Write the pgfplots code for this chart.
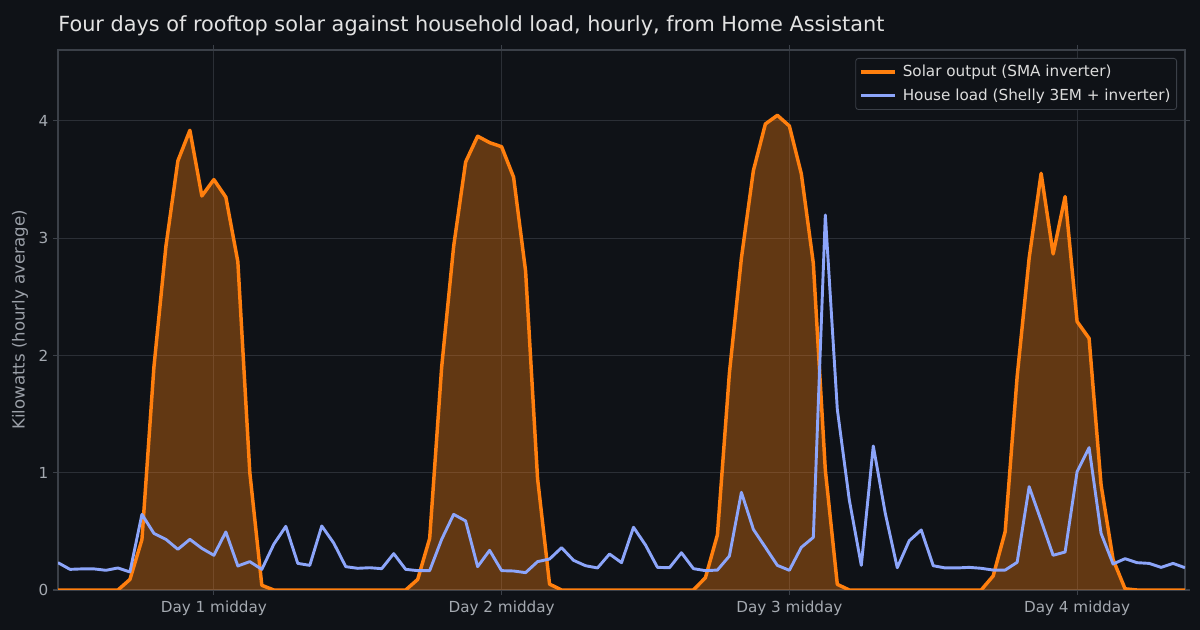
\documentclass[border=0pt]{standalone}
\usepackage{pgfplots}
\pgfplotsset{compat=1.18}
\usepackage{fontspec}
\setmainfont{DejaVu Sans}
\definecolor{bgc}{HTML}{0F1217}
\definecolor{gridc}{HTML}{2B2F36}
\definecolor{spinec}{HTML}{3B4048}
\definecolor{titlec}{HTML}{E2E2E2}
\definecolor{tickc}{HTML}{A4A9B0}
\definecolor{labc}{HTML}{9BA0A8}
\definecolor{solarc}{HTML}{FF7F0E}
\definecolor{loadc}{HTML}{8CA5FA}
\definecolor{legc}{HTML}{DCDCDC}
\pgfplotstableread{
x solar load
0 0 0.233
1 0 0.176
2 0 0.180
3 0 0.180
4 0 0.168
5 0 0.188
6 0.09 0.154
7 0.43 0.645
8 1.90 0.483
9 2.93 0.432
10 3.66 0.347
11 3.92 0.432
12 3.36 0.355
13 3.50 0.296
14 3.35 0.495
15 2.80 0.205
16 1.00 0.242
17 0.04 0.176
18 0 0.390
19 0 0.543
20 0 0.227
21 0 0.210
22 0 0.546
23 0 0.400
24 0 0.199
25 0 0.185
26 0 0.190
27 0 0.182
28 0 0.310
29 0 0.176
30 0.09 0.165
31 0.44 0.165
32 1.90 0.432
33 2.93 0.645
34 3.65 0.589
35 3.87 0.199
36 3.815 0.338
37 3.78 0.165
38 3.52 0.162
39 2.72 0.148
40 0.95 0.242
41 0.05 0.264
42 0 0.361
43 0 0.253
44 0 0.207
45 0 0.188
46 0 0.307
47 0 0.233
48 0 0.535
49 0 0.384
50 0 0.193
51 0 0.190
52 0 0.318
53 0 0.182
54 0.105 0.165
55 0.47 0.170
56 1.85 0.290
57 2.83 0.833
58 3.576 0.517
59 3.974 0.364
60 4.048 0.210
61 3.957 0.168
62 3.548 0.364
63 2.786 0.449
64 1.023 3.198
65 0.048 1.541
66 0 0.768
67 0 0.210
68 0 1.228
69 0 0.654
70 0 0.190
71 0 0.420
72 0 0.512
73 0 0.207
74 0 0.188
75 0 0.188
76 0 0.193
77 0 0.185
78 0.12 0.170
79 0.497 0.170
80 1.82 0.236
81 2.83 0.881
82 3.553 0.591
83 2.866 0.296
84 3.355 0.324
85 2.289 1.009
86 2.146 1.214
87 0.896 0.483
88 0.26 0.222
89 0.01 0.267
90 0 0.233
91 0 0.227
92 0 0.193
93 0 0.227
94 0 0.190
}\datatable
\begin{document}
\begin{tikzpicture}
\fill[bgc] (0,0) rectangle (864bp,453.6bp);
\useasboundingbox (0,0) rectangle (864bp,453.6bp);
\begin{axis}[
  at={(41.76bp,28.8bp)}, anchor=south west,
  scale only axis, width=811.44bp, height=388.8bp,
  xmin=0, xmax=94, ymin=0, ymax=4.605,
  axis background/.style={fill=bgc},
  axis line style={spinec, line width=0.8bp},
  grid=major,
  major grid style={gridc, line width=0.8bp},
  tick align=outside,
  major tick length=3.5bp,
  tick style={spinec, line width=0.8bp},
  xtick={13,37,61,85},
  xticklabels={Day 1 midday, Day 2 midday, Day 3 midday, Day 4 midday},
  ytick={0,1,2,3,4},
  /pgf/number format/assume math mode=true,
  ticklabel style={font=\fontsize{11}{13}\selectfont, text=tickc},
  xticklabel style={yshift=-1bp},
  ylabel={Kilowatts (hourly average)},
  ylabel style={at={(axis description cs:-0.0337,0.5)}, anchor=center, font=\fontsize{12}{14}\selectfont, text=labc},
  every axis title shift=0pt,
  title={Four days of rooftop solar against household load, hourly, from Home Assistant},
  title style={at={(axis description cs:0,1.0339)}, anchor=base west, font=\fontsize{15.05}{18}\selectfont, text=titlec, inner sep=0pt},
  legend style={at={(axis description cs:0.99290,0.98519)}, anchor=north east,
    fill=bgc, draw=spinec, line width=0.6bp, rounded corners=2bp,
    font=\fontsize{11}{13}\selectfont, text=legc,
    inner xsep=2.4bp, inner ysep=3bp, row sep=3.2bp},
  legend cell align=left,
  legend image code/.code={\draw[#1] (0bp,0bp) -- (24.5bp,0bp); \path (27bp,0bp);},
  clip=true,
]
\addplot[draw=none, fill=solarc, fill opacity=0.35, forget plot] table[x=x, y=solar] {\datatable} \closedcycle;
\addplot[solarc, line width=2.5bp, line join=round] table[x=x, y=solar] {\datatable};
\addlegendentry{Solar output (SMA inverter)}
\addplot[loadc, line width=2.1bp, line join=round] table[x=x, y=load] {\datatable};
\addlegendentry{House load (Shelly 3EM + inverter)}
\end{axis}
\end{tikzpicture}
\end{document}
